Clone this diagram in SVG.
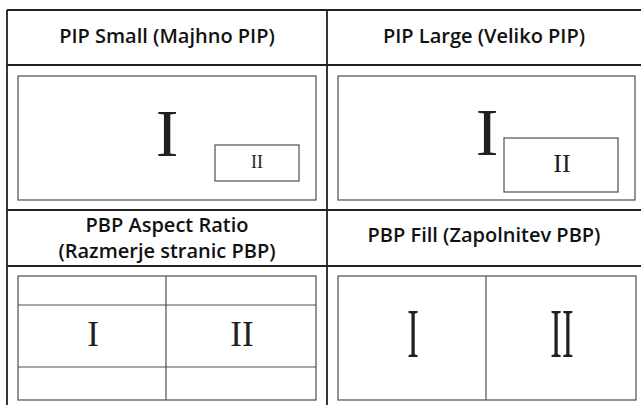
<svg xmlns="http://www.w3.org/2000/svg" width="641" height="405" viewBox="0 0 641 405">
<style>
.grid{stroke:#231f20;stroke-width:1.8;fill:none}
.box{stroke:#4d4d4d;stroke-width:1.2;fill:none}
.hdr{font-family:"Open Sans","Liberation Sans",sans-serif;font-weight:600;font-size:20px;fill:#111;text-anchor:middle}
.rn{font-family:"Liberation Serif","DejaVu Serif",serif;fill:#231f20;text-anchor:middle}
</style>
<rect width="641" height="405" fill="#fff"/>
<g id="grid">
<line class="grid" x1="7" y1="10" x2="641" y2="10"/>
<line class="grid" x1="7" y1="65" x2="641" y2="65"/>
<line class="grid" x1="7" y1="210" x2="641" y2="210"/>
<line class="grid" x1="7" y1="266" x2="641" y2="266"/>
<line class="grid" x1="7" y1="10" x2="7" y2="405"/>
<line class="grid" x1="327" y1="10" x2="327" y2="405"/>
</g>
<g id="pip-small">
<text class="hdr" x="167" y="43">PIP Small (Majhno PIP)</text>
<rect class="box" x="18" y="76" width="298" height="124"/>
<text class="rn" x="167" y="156" font-size="68">I</text>
<rect class="box" x="215" y="145" width="84" height="36"/>
<text class="rn" x="257" y="168" font-size="18">II</text>
</g>
<g id="pip-large">
<text class="hdr" x="484" y="43">PIP Large (Veliko PIP)</text>
<rect class="box" x="338" y="76" width="297" height="124"/>
<text class="rn" x="487" y="155" font-size="68">I</text>
<rect class="box" x="504" y="138" width="114" height="54"/>
<text class="rn" x="562" y="172" font-size="26">II</text>
</g>
<g id="pbp-aspect">
<text class="hdr" x="167" y="232">PBP Aspect Ratio</text>
<text class="hdr" x="167" y="258">(Razmerje stranic PBP)</text>
<rect class="box" x="18" y="276" width="298" height="124"/>
<line class="box" x1="18" y1="305" x2="316" y2="305"/>
<line class="box" x1="18" y1="367" x2="316" y2="367"/>
<line class="box" x1="166" y1="276" x2="166" y2="400"/>
<text class="rn" x="93" y="346" font-size="35">I</text>
<text class="rn" x="242" y="346" font-size="35">II</text>
</g>
<g id="pbp-fill">
<text class="hdr" x="484" y="242">PBP Fill (Zapolnitev PBP)</text>
<rect class="box" x="338" y="276" width="298" height="124"/>
<line class="box" x1="486" y1="276" x2="486" y2="400"/>
<text class="rn" x="413" y="178.5" font-size="35" transform="scale(1,2)">I</text>
<text class="rn" x="562" y="178.5" font-size="35" transform="scale(1,2)">II</text>
</g>
</svg>
